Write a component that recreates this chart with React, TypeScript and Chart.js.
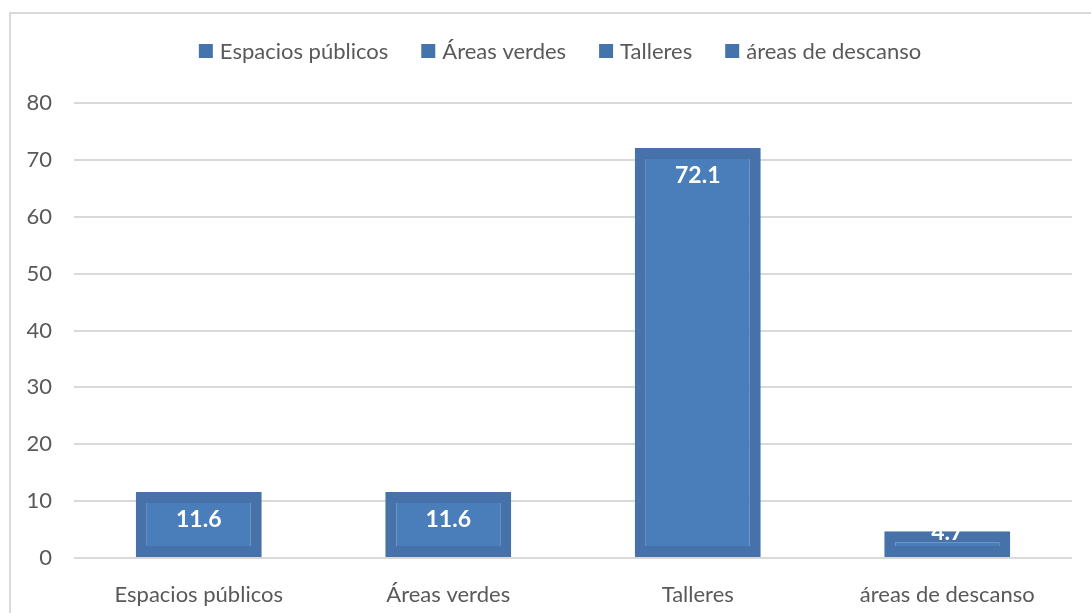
import React, { useEffect, useRef } from "react";
import { Chart, registerables } from "chart.js";

Chart.register(...registerables);

const categories = ["Espacios públicos", "Áreas verdes", "Talleres", "áreas de descanso"];
const values = [11.6, 11.6, 72.1, 4.7];
const valueLabels = ["11.6", "11.6", "72.1", "4.7"];
const yMin = 0;
const yMax = 80;
const yStep = 10;

const FONT = "Lato, 'Open Sans', sans-serif";
const TEXT = "#595959";
const BAR_FILL = "#4A7EBB";
const BAR_EDGE = "#4672A9";
const LEGEND_BOX = "#4573AB";
const GRID = "#d9d9d9";

const legendPlugin = {
  id: "customLegend",
  afterDraw(chart: any) {
    const ctx = chart.ctx;
    ctx.save();
    ctx.font = `22px ${FONT}`;
    const box = 14;
    const boxGap = 7;
    const itemGap = 33;
    const widths = categories.map((c) => ctx.measureText(c).width);
    const total =
      widths.reduce((a, w) => a + box + boxGap + w, 0) + itemGap * (categories.length - 1);
    let x = 560 - total / 2;
    const cy = 51;
    ctx.textBaseline = "middle";
    ctx.textAlign = "left";
    categories.forEach((c, i) => {
      ctx.fillStyle = LEGEND_BOX;
      ctx.fillRect(x, cy - box / 2, box, box);
      ctx.fillStyle = TEXT;
      ctx.fillText(c, x + box + boxGap, cy + 1);
      x += box + boxGap + widths[i] + itemGap;
    });
    ctx.restore();
  },
};

const labelPlugin = {
  id: "valueLabels",
  afterDatasetsDraw(chart: any) {
    const ctx = chart.ctx;
    const meta = chart.getDatasetMeta(0);
    ctx.save();
    ctx.font = `bold 23px ${FONT}`;
    ctx.fillStyle = "#ffffff";
    ctx.textAlign = "center";
    ctx.textBaseline = "middle";
    meta.data.forEach((el: any, i: number) => {
      const h = el.base - el.y;
      const cy = h > 50 ? el.y + 28 : el.y + 1;
      ctx.fillText(valueLabels[i], el.x, cy);
    });
    ctx.restore();
  },
};

export default function App() {
  const ref = useRef<HTMLCanvasElement>(null);

  useEffect(() => {
    if (!ref.current) return;
    const chart = new Chart(ref.current, {
      type: "bar",
      data: {
        labels: categories,
        datasets: [
          {
            data: values,
            backgroundColor: BAR_FILL,
            borderColor: BAR_EDGE,
            borderWidth: 11,
            borderSkipped: false,
            categoryPercentage: 1,
            barPercentage: 0.505,
          },
        ],
      },
      options: {
        animation: false,
        responsive: false,
        maintainAspectRatio: false,
        layout: { padding: { left: 0, right: 19, top: 103, bottom: 0 } },
        plugins: {
          legend: { display: false },
          tooltip: { enabled: false },
        },
        scales: {
          x: {
            grid: { display: false },
            border: { display: false },
            ticks: {
              color: TEXT,
              font: { family: FONT, size: 22 },
              padding: 16,
              maxRotation: 0,
              autoSkip: false,
            },
            afterFit: (s: any) => {
              s.height = 55;
            },
          },
          y: {
            min: yMin,
            max: yMax,
            grid: { color: GRID, lineWidth: 2, drawTicks: false },
            border: { display: false },
            ticks: {
              stepSize: yStep,
              color: TEXT,
              font: { family: FONT, size: 22 },
              padding: 22,
            },
            afterFit: (s: any) => {
              s.width = 74;
            },
          },
        },
      },
      plugins: [legendPlugin, labelPlugin],
    });
    return () => chart.destroy();
  }, []);

  return (
    <div
      style={{
        position: "absolute",
        left: 0,
        top: 0,
        width: 1091,
        height: 613,
        overflow: "hidden",
        background: "#ffffff",
      }}
    >
      <div
        style={{
          position: "absolute",
          left: 9,
          top: 12,
          right: 0,
          bottom: 0,
          borderTop: `2px solid ${GRID}`,
          borderLeft: `2px solid ${GRID}`,
        }}
      />
      <canvas
        ref={ref}
        width={1091}
        height={613}
        style={{ position: "absolute", left: 0, top: 0, width: 1091, height: 613 }}
      />
    </div>
  );
}
